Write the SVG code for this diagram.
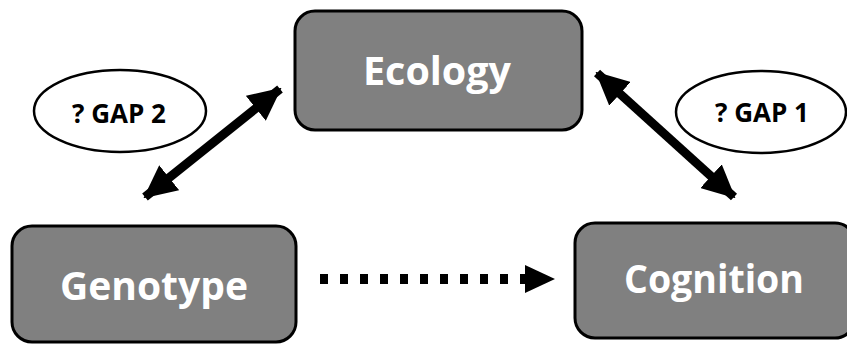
<svg xmlns="http://www.w3.org/2000/svg" width="847" height="344" viewBox="0 0 847 344">
<style>
.box{fill:#808080;stroke:#000;stroke-width:3}
.lbl{font-family:"Open Sans","Liberation Sans",sans-serif;font-weight:700;fill:#fff;font-size:40px;text-anchor:middle}
.gap{fill:#fff;stroke:#000;stroke-width:2.5}
.gl{font-family:"Open Sans","Liberation Sans",sans-serif;font-weight:700;fill:#000;font-size:26px;text-anchor:middle}
.conn{stroke:#000;stroke-width:9;fill:none}
</style>
<defs>
<marker id="ah" markerUnits="userSpaceOnUse" viewBox="0 0 33 32" refX="31" refY="16" markerWidth="33" markerHeight="32" orient="auto-start-reverse">
<path d="M0,0 L33,16 L0,32 Z" fill="#000"/>
</marker>
</defs>
<rect width="847" height="344" fill="#fff"/>
<g id="connectors">
<line class="conn" x1="145" y1="197" x2="280" y2="89" marker-start="url(#ah)" marker-end="url(#ah)"/>
<line class="conn" x1="597" y1="73" x2="734" y2="197" marker-start="url(#ah)" marker-end="url(#ah)"/>
<line x1="320" y1="279" x2="528" y2="279" stroke="#000" stroke-width="10" stroke-dasharray="8 12"/>
<path d="M525,265 L555,279 L525,293 Z" fill="#000"/>
</g>
<g id="ecology">
<rect class="box" x="295" y="11" width="287" height="119" rx="20"/>
<text class="lbl" x="437" y="85" textLength="148" lengthAdjust="spacingAndGlyphs">Ecology</text>
</g>
<g id="genotype">
<rect class="box" x="12" y="226" width="284" height="116" rx="20"/>
<text class="lbl" x="154" y="300" textLength="188" lengthAdjust="spacingAndGlyphs">Genotype</text>
</g>
<g id="cognition">
<rect class="box" x="575" y="223" width="280" height="115" rx="20"/>
<text class="lbl" x="714" y="293" textLength="180" lengthAdjust="spacingAndGlyphs">Cognition</text>
</g>
<g id="gap2">
<ellipse class="gap" cx="120" cy="111" rx="86" ry="41"/>
<text class="gl" x="119" y="123" textLength="94" lengthAdjust="spacingAndGlyphs">? GAP 2</text>
</g>
<g id="gap1">
<ellipse class="gap" cx="761" cy="112" rx="85" ry="41"/>
<text class="gl" x="762" y="122" textLength="94" lengthAdjust="spacingAndGlyphs">? GAP 1</text>
</g>
</svg>
